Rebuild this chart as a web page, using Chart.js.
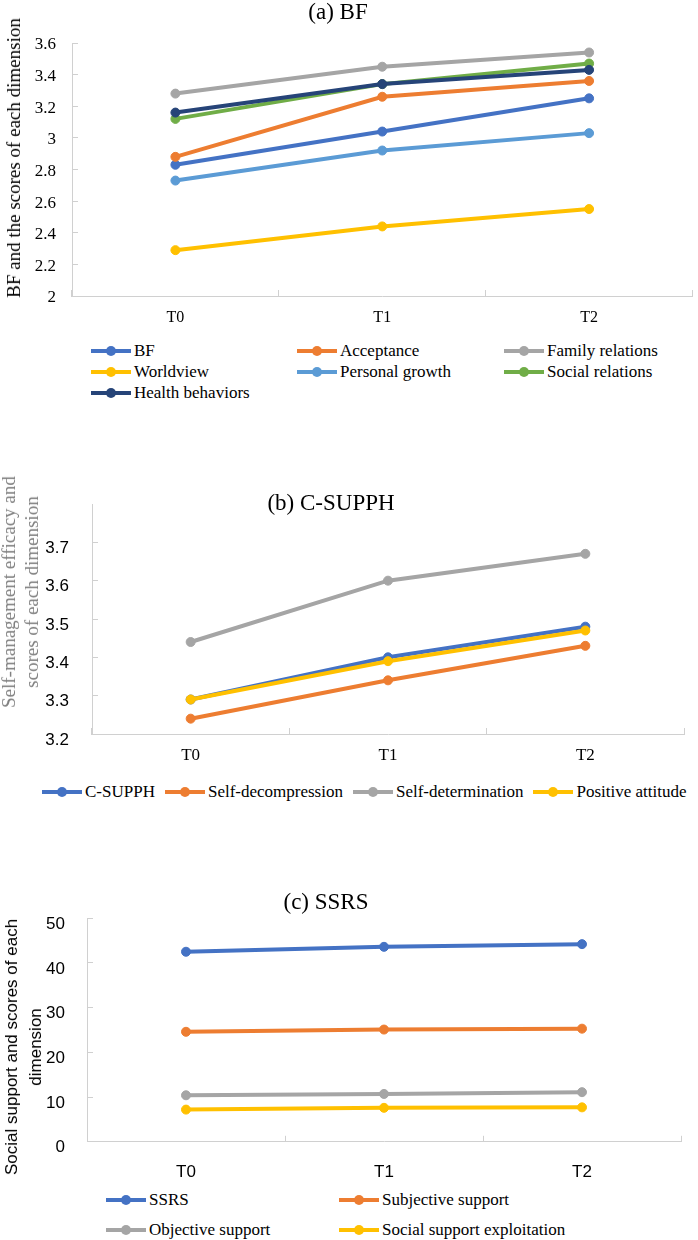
<!DOCTYPE html>
<html>
<head>
<meta charset="utf-8">
<script src="https://cdn.jsdelivr.net/npm/chart.js@4.4.1/dist/chart.umd.min.js"></script>
<style>
    body { margin: 0; background: #fff; }
    #pagina { position: relative; width: 698px; height: 1240px; overflow: hidden; background: #fff; }
    canvas { position: absolute; left: 0; }
    .titulo { position: absolute; transform: translate(-50%, -50%); font-family: "Liberation Serif", "Times New Roman", serif; font-size: 23px; white-space: nowrap; color: #000; }
    .eixo { position: absolute; transform: translate(-50%, -50%) rotate(-90deg); white-space: nowrap; text-align: center; }
    .legenda { position: absolute; font-family: "Liberation Serif", "Times New Roman", serif; font-size: 17px; color: #000; }
    .item { display: flex; align-items: center; white-space: nowrap; }
    .marca { position: relative; width: 40px; height: 4px; margin-right: 3px; flex: none; }
    .marca span { position: absolute; left: 15px; top: -3px; width: 10px; height: 10px; border-radius: 50%; }
</style>
</head>
<body>
<div id="pagina">
    <canvas id="graficoBF" width="698" height="340" style="top:0px"></canvas>
    <canvas id="graficoSUPPH" width="698" height="320" style="top:460px"></canvas>
    <canvas id="graficoSSRS" width="698" height="300" style="top:880px"></canvas>

    <div class="titulo" style="left:338px; top:12px">(a) BF</div>
    <div class="titulo" style="left:331px; top:503px">(b) C-SUPPH</div>
    <div class="titulo" style="left:326px; top:902px">(c) SSRS</div>

    <div class="eixo" style="left:14px; top:158px; font: 19px 'Liberation Serif', serif; color:#000">BF and the scores of each dimension</div>
    <div class="eixo" style="left:20px; top:592px; font: 19px 'Liberation Serif', serif; line-height:23px; color:#808080">Self-management efficacy and<br>scores of each dimension</div>
    <div class="eixo" style="left:24px; top:1047px; font: 17px 'Liberation Sans', Arial, sans-serif; line-height:24px; color:#000">Social support and scores of each<br>dimension</div>

    <div class="legenda" id="legendaBF" style="left:91px; top:340px; display:grid; grid-template-columns:206px 207px 190px; grid-auto-rows:21px"></div>
    <div class="legenda" id="legendaSUPPH" style="left:42px; top:781px; display:flex; gap:10px; height:21px"></div>
    <div class="legenda" id="legendaSSRS" style="left:106px; top:1185px; display:grid; grid-template-columns:233px 240px; grid-auto-rows:30px"></div>
</div>

<script>
const tempos = ['T0', 'T1', 'T2'];

// (a) BF
const bfNomes = ['BF', 'Acceptance', 'Family relations', 'Worldview', 'Personal growth', 'Social relations', 'Health behaviors'];
const bfCores = ['#4472C4', '#ED7D31', '#A5A5A5', '#FFC000', '#5B9BD5', '#70AD47', '#264478'];
const bfTotal = [2.83, 3.04, 3.25];
const bfAceitacao = [2.88, 3.26, 3.36];
const bfFamilia = [3.28, 3.45, 3.54];
const bfVisaoMundo = [2.29, 2.44, 2.55];
const bfCrescimento = [2.73, 2.92, 3.03];
const bfSocial = [3.12, 3.34, 3.47];
const bfSaude = [3.16, 3.34, 3.43];
const bfEscala = { min: 2, max: 3.6, passo: 0.2 };

// (b) C-SUPPH
const supphNomes = ['C-SUPPH', 'Self-decompression', 'Self-determination', 'Positive attitude'];
const supphCores = ['#4472C4', '#ED7D31', '#A5A5A5', '#FFC000'];
const supphTotal = [3.29, 3.40, 3.48];
const supphDescompressao = [3.24, 3.34, 3.43];
const supphDeterminacao = [3.44, 3.60, 3.67];
const supphAtitude = [3.29, 3.39, 3.47];
const supphEscala = { min: 3.2, max: 3.8, passo: 0.1, ocultar: 3.8 };

// (c) SSRS
const ssrsNomes = ['SSRS', 'Subjective support', 'Objective support', 'Social support exploitation'];
const ssrsCores = ['#4472C4', '#ED7D31', '#A5A5A5', '#FFC000'];
const ssrsTotal = [42.5, 43.6, 44.2];
const ssrsSubjetivo = [24.6, 25.1, 25.3];
const ssrsObjetivo = [10.4, 10.7, 11.1];
const ssrsUtilizacao = [7.2, 7.6, 7.7];
const ssrsEscala = { min: 0, max: 50, passo: 10 };

const corEixo = '#d0d0d0';
const serif = 'Liberation Serif';
const sans = 'Liberation Sans';

document.addEventListener('DOMContentLoaded', function () {
    criarGrafico('graficoBF', bfNomes, bfCores,
        [bfTotal, bfAceitacao, bfFamilia, bfVisaoMundo, bfCrescimento, bfSocial, bfSaude], bfEscala, {
            topo: 43, direita: 2, largura: 72, altura: 44,
            fonteY: { family: serif, size: 17 }, fonteX: { family: serif, size: 16 },
            padY: 22, padX: 18, deslocY: 2
        });
    criarGrafico('graficoSUPPH', supphNomes, supphCores,
        [supphTotal, supphDescompressao, supphDeterminacao, supphAtitude], supphEscala, {
            topo: 44, direita: 14, largura: 92, altura: 46,
            fonteY: { family: sans, size: 17 }, fonteX: { family: serif, size: 17 },
            padY: 29, padX: 17, deslocY: 6
        });
    criarGrafico('graficoSSRS', ssrsNomes, ssrsCores,
        [ssrsTotal, ssrsSubjetivo, ssrsObjetivo, ssrsUtilizacao], ssrsEscala, {
            topo: 35, direita: 17, largura: 87, altura: 37,
            fonteY: { family: sans, size: 17 }, fonteX: { family: sans, size: 17 },
            padY: 28, padX: 26, deslocY: 6
        });

    montarLegenda('legendaBF', bfNomes, bfCores);
    montarLegenda('legendaSUPPH', supphNomes, supphCores);
    montarLegenda('legendaSSRS', ssrsNomes, ssrsCores);
});

function criarGrafico(id, nomes, cores, series, escala, cfg) {
    const ctx = document.getElementById(id).getContext('2d');
    return new Chart(ctx, {
        type: 'line',
        data: {
            labels: tempos,
            datasets: series.map((valores, i) => ({
                label: nomes[i],
                data: valores,
                borderColor: cores[i],
                backgroundColor: cores[i],
                pointBackgroundColor: cores[i],
                pointBorderColor: cores[i],
                borderWidth: 4,
                pointRadius: 4.5,
                pointBorderWidth: 1,
                tension: 0,
                order: series.length - i  // a ultima serie fica por cima, como no Excel
            }))
        },
        options: {
            responsive: false,
            animation: false,
            layout: { padding: { top: cfg.topo, right: cfg.direita, left: 0, bottom: 0 } },
            plugins: {
                legend: { display: false },
                title: { display: false },
                tooltip: { enabled: false }
            },
            scales: {
                x: {
                    type: 'category',
                    offset: true,
                    grid: { offset: true, drawOnChartArea: false, tickLength: -6, color: corEixo },
                    border: { color: corEixo, width: 1 },
                    ticks: { color: '#000', font: cfg.fonteX, padding: cfg.padX, maxRotation: 0, autoSkip: false },
                    afterFit: function (s) { s.height = cfg.altura; }
                },
                y: {
                    min: escala.min,
                    max: escala.max,
                    grid: { drawOnChartArea: false, tickLength: -6, color: corEixo },
                    border: { color: corEixo, width: 1 },
                    ticks: {
                        stepSize: escala.passo,
                        color: '#000',
                        font: cfg.fonteY,
                        padding: cfg.padY,
                        labelOffset: cfg.deslocY,
                        callback: function (v) {
                            const n = Number(Number(v).toFixed(1));
                            if (escala.ocultar !== undefined && n === escala.ocultar) return null;
                            return String(n);
                        }
                    },
                    afterFit: function (s) { s.width = cfg.largura; }
                }
            }
        }
    });
}

function montarLegenda(id, nomes, cores) {
    const div = document.getElementById(id);
    div.innerHTML = "";
    for (let i = 0; i < nomes.length; i++) {
        div.innerHTML +=
            `<div class="item"><span class="marca" style="background:${cores[i]}"><span style="background:${cores[i]}"></span></span>${nomes[i]}</div>`;
    }
}
</script>
</body>
</html>
